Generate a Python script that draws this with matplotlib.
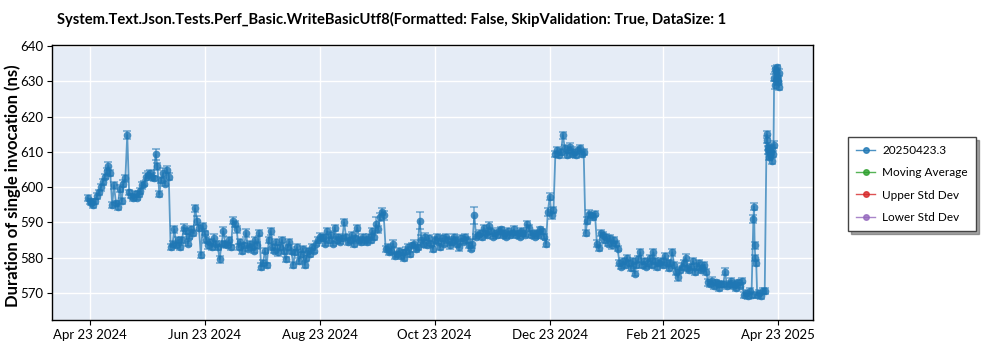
import matplotlib
matplotlib.use("Agg")
import matplotlib.pyplot as plt
import matplotlib.dates as mdates
from matplotlib.lines import Line2D
import pandas as pd

plt.rcParams['font.family'] = ['Lato', 'DejaVu Sans']

title = "System.Text.Json.Tests.Perf_Basic.WriteBasicUtf8(Formatted: False, SkipValidation: True, DataSize: 1"
y_label = "Duration of single invocation (ns)"
series_labels = ["20250423.3", "Moving Average", "Upper Std Dev", "Lower Std Dev"]
series_colors = ["#1f77b4", "#2ca02c", "#d62728", "#9467bd"]
first_day = "2024-04-22"
tick_dates = ["2024-04-23", "2024-06-23", "2024-08-23", "2024-10-23",
              "2024-12-23", "2025-02-21", "2025-04-23"]
y_ticks = [570, 580, 590, 600, 610, 620, 630, 640]

# one run per day starting at first_day
durations = [
    597.0, 596.0, 595.5, 595.0, 596.0, 597.5, 598.5, 600.0, 601.5, 603.0,
    604.5, 606.0, 604.0, 595.0, 600.5, 595.5, 594.5, 599.5, 596.0, 601.0,
    602.5, 614.8, 598.5, 597.5, 597.0, 598.0, 597.0, 598.0, 599.0, 600.5,
    601.0, 603.0, 603.5, 604.0, 603.0, 602.5, 609.3, 606.0, 598.0, 602.0,
    604.0, 601.0, 605.0, 603.0, 583.0, 584.0, 588.0, 583.5, 585.0, 583.0,
    585.0, 588.5, 587.5, 584.0, 586.0, 588.0, 587.0, 594.0, 590.5, 588.5,
    580.8, 589.0, 587.0, 585.0, 583.5, 584.5, 583.0, 585.5, 584.0, 583.0,
    579.5, 584.0, 587.5, 584.0, 583.5, 585.0, 583.0, 590.5, 589.5, 588.0,
    583.0, 584.5, 582.0, 583.5, 587.0, 582.5, 584.0, 583.0, 582.0, 585.0,
    583.5, 587.0, 577.5, 578.5, 582.0, 577.8, 585.0, 587.5, 583.0, 582.0,
    584.5, 581.5, 583.0, 585.0, 582.0, 579.5, 583.0, 584.5, 582.0, 578.0,
    581.5, 583.0, 579.0, 581.0, 582.5, 578.0, 580.0, 582.0, 581.0, 583.0,
    582.0, 584.0, 585.0, 586.0, 585.5, 586.0, 584.0, 587.5, 585.0, 586.5,
    584.0, 588.5, 585.0, 586.0, 584.5, 585.5, 590.0, 586.0, 584.5, 585.0,
    586.5, 584.0, 585.5, 588.5, 585.0, 584.5, 586.0, 585.0, 584.5, 586.0,
    585.0, 587.5, 586.0, 589.5, 588.0, 591.5, 593.0, 592.0, 582.5, 583.0,
    581.5, 582.0, 584.0, 580.5, 581.0, 582.0, 580.5, 581.5, 580.0, 582.0,
    583.0, 581.0, 583.5, 584.0, 582.5, 583.0, 590.5, 585.0, 584.0, 586.0,
    583.5, 585.5, 584.0, 582.5, 585.0, 586.0, 584.5, 583.0, 585.5, 584.0,
    586.0, 585.0, 583.5, 584.5, 586.0, 585.0, 584.0, 583.0, 585.5, 584.5,
    586.0, 585.0, 583.5, 582.5, 584.0, 592.0, 586.0, 586.5, 587.0, 586.0,
    588.5, 587.0, 586.5, 589.0, 587.5, 586.0, 587.0, 586.5, 587.5, 588.0,
    586.5, 587.0, 586.0, 587.5, 586.5, 587.0, 588.0, 586.5, 587.0, 586.0,
    587.5, 587.0, 586.5, 589.5, 588.5, 586.5, 587.0, 586.0, 587.0, 586.5,
    588.0, 587.5, 586.0, 584.0, 593.0, 597.3, 592.0, 593.5, 609.5, 610.5,
    609.0, 610.0, 614.8, 611.0, 609.0, 610.5, 611.5, 609.5, 610.0, 609.0,
    610.5, 611.0, 609.5, 610.0, 587.0, 590.5, 592.5, 592.0, 591.5, 592.5,
    584.0, 582.7, 587.0, 586.5, 585.0, 586.0, 584.0, 585.5, 583.5, 585.0,
    584.0, 582.5, 578.5, 577.5, 579.0, 578.0, 580.0, 578.5, 577.0, 579.0,
    575.5, 578.0, 579.5, 581.5, 578.0, 579.0, 577.5, 578.5, 580.0, 578.0,
    581.5, 579.0, 577.5, 578.5, 579.0, 578.0, 580.5, 578.5, 577.0, 578.5,
    581.5, 578.0, 576.0, 574.5, 576.5, 577.5, 578.5, 580.0, 577.0, 576.5,
    577.5, 579.0, 576.0, 577.5, 578.5, 576.5, 577.0, 578.0, 576.0, 573.0,
    572.5, 573.5, 572.0, 573.0, 572.5, 571.5, 572.5, 572.5, 576.0, 572.0,
    572.5, 573.5, 572.0, 572.5, 571.5, 573.0, 572.0, 573.5, 569.5, 570.0,
    569.0, 570.5, 569.5, 591.0, 580.0, 569.5, 570.0, 569.0, 570.5, 570.5,
    615.0, 610.5, 609.0, 611.0, 631.0, 633.0, 630.0,
]
errors = [
    0.8, 0.7, 0.6, 0.8, 0.7, 0.9, 0.8, 1.0, 0.9, 0.8,
    1.0, 1.2, 0.9, 0.8, 1.0, 0.7, 0.9, 1.0, 0.8, 0.9,
    1.0, 1.2, 0.8, 0.7, 0.9, 0.8, 0.7, 0.8, 0.9, 1.0,
    0.8, 0.9, 1.0, 0.8, 0.9, 0.7, 1.6, 1.0, 0.8, 0.9,
    1.5, 0.8, 0.9, 1.0, 0.8, 0.7, 1.0, 0.8, 0.9, 0.7,
    0.8, 1.0, 0.9, 0.7, 0.8, 1.0, 0.9, 1.0, 1.2, 0.9,
    0.8, 0.9, 0.7, 0.8, 0.9, 0.7, 0.8, 1.2, 0.8, 0.7,
    0.9, 0.8, 1.3, 0.7, 0.8, 0.9, 0.7, 1.0, 0.8, 0.9,
    0.8, 0.7, 0.9, 0.8, 1.0, 0.7, 0.8, 0.9, 0.7, 0.8,
    0.9, 0.8, 0.9, 0.8, 0.7, 0.8, 0.9, 1.0, 0.8, 0.7,
    0.8, 0.9, 0.7, 0.8, 0.9, 0.8, 0.7, 0.8, 0.9, 0.8,
    0.7, 0.8, 0.9, 0.7, 0.8, 0.9, 0.8, 0.7, 0.8, 0.9,
    0.8, 0.7, 0.8, 0.9, 0.8, 0.7, 0.8, 1.0, 0.8, 0.9,
    0.7, 0.8, 0.9, 0.8, 0.7, 0.8, 1.0, 0.8, 0.9, 0.7,
    0.8, 0.9, 0.7, 0.8, 0.8, 0.9, 0.7, 0.8, 0.9, 0.8,
    0.8, 1.0, 0.9, 2.0, 1.0, 1.2, 1.0, 1.3, 0.9, 0.8,
    0.7, 0.8, 0.9, 0.8, 0.7, 0.8, 0.9, 0.7, 0.8, 0.9,
    0.8, 0.7, 0.8, 0.9, 0.8, 0.7, 2.5, 1.5, 0.9, 1.0,
    0.8, 0.9, 0.7, 0.8, 0.9, 0.8, 0.7, 0.8, 0.9, 0.8,
    0.7, 0.8, 0.9, 0.8, 0.7, 0.8, 0.9, 1.0, 0.8, 0.7,
    0.8, 0.9, 0.8, 0.7, 1.2, 2.5, 0.8, 0.7, 0.8, 0.9,
    0.8, 0.7, 0.8, 1.0, 0.8, 0.7, 0.8, 0.9, 0.8, 0.7,
    0.8, 0.9, 0.7, 0.8, 0.8, 0.7, 0.9, 0.8, 0.7, 0.8,
    0.9, 0.8, 0.7, 1.0, 0.9, 0.8, 0.7, 0.8, 0.9, 0.8,
    0.8, 0.7, 0.8, 0.9, 1.2, 1.0, 1.0, 0.9, 0.8, 0.9,
    0.8, 0.9, 1.0, 1.0, 0.8, 0.9, 1.0, 0.8, 0.9, 0.8,
    1.0, 0.9, 0.8, 0.9, 0.8, 1.0, 0.9, 0.8, 0.9, 0.8,
    0.9, 0.8, 0.9, 0.8, 0.9, 0.8, 0.7, 0.8, 0.9, 0.8,
    0.8, 0.7, 0.9, 0.8, 0.9, 0.8, 0.9, 0.8, 0.7, 0.9,
    0.8, 0.9, 1.0, 0.9, 0.8, 0.9, 0.8, 1.0, 0.9, 0.8,
    1.0, 0.8, 0.9, 0.8, 1.0, 0.8, 0.9, 0.8, 0.9, 0.8,
    1.0, 0.8, 0.9, 1.0, 0.8, 0.9, 0.8, 1.0, 0.8, 0.9,
    0.8, 0.9, 0.8, 0.9, 0.8, 0.9, 0.8, 0.9, 0.8, 0.9,
    0.8, 0.9, 0.8, 0.7, 0.8, 0.9, 0.8, 0.7, 1.0, 0.8,
    0.9, 0.8, 0.7, 0.8, 0.9, 0.8, 0.7, 0.8, 0.9, 0.8,
    0.7, 0.8, 0.9, 1.2, 0.9, 0.8, 0.7, 0.8, 0.9, 0.8,
    1.0, 1.2, 0.9, 1.0, 1.0, 0.9, 1.0,
]
# additional runs within the same day (dense end of the series)
extra_times = ["2025-04-10 08:00", "2025-04-10 16:00", "2025-04-11 12:00",
               "2025-04-17 06:00", "2025-04-17 14:00", "2025-04-18 08:00",
               "2025-04-18 16:00", "2025-04-19 10:00", "2025-04-19 18:00",
               "2025-04-20 08:00", "2025-04-20 16:00",
               "2025-04-21 08:00", "2025-04-21 16:00", "2025-04-22 06:00",
               "2025-04-22 14:00", "2025-04-22 20:00", "2025-04-23 08:00",
               "2025-04-23 14:00"]
extra_vals = [594.5, 583.5, 578.5, 613.5, 611.5, 608.5, 611.0, 610.0, 607.5,
              609.5, 612.0, 629.0, 633.5, 631.5, 634.0, 630.0, 632.5, 628.5]
extra_errs = [1.0, 1.0, 0.8, 1.0, 0.9, 0.8, 0.9, 1.0, 0.8,
              0.9, 1.0, 1.0, 0.9, 1.0, 0.8, 0.9, 1.0, 0.9]

daily_dates = pd.date_range(first_day, periods=len(durations), freq="D")
n = min(len(durations), len(errors))
df = pd.DataFrame({
    "t": list(daily_dates[:n]) + list(pd.to_datetime(extra_times)),
    "v": durations[:n] + extra_vals,
    "e": errors[:n] + extra_errs,
}).sort_values("t")

fig = plt.figure(figsize=(10, 3.5), dpi=100)
ax = fig.add_axes([0.052, 0.086, 0.761, 0.785])
ax.set_facecolor("#E5ECF6")

c = series_colors[0]
ax.plot(df.t, df.v, color=c, lw=1.3, alpha=0.7, zorder=3)
ax.errorbar(df.t, df.v, yerr=df.e, fmt='none', ecolor=c, elinewidth=1.1,
            capsize=3, capthick=1.1, alpha=0.6, zorder=3)
ax.plot(df.t, df.v, 'o', color=c, ms=5.5, mew=0, alpha=0.8, zorder=4)

ticks = pd.to_datetime(tick_dates)
ax.set_xticks(ticks)
ax.set_xticklabels([d.strftime("%b %d %Y") for d in ticks], fontsize=9.5)
ref = mdates.date2num(pd.Timestamp(tick_dates[0]))
ax.set_xlim(ref - 19.9, ref + 383.6)
ax.set_ylim(562.35, 640.3)
ax.set_yticks(y_ticks)
ax.set_yticklabels([str(v) for v in y_ticks], fontsize=9.5)
ax.grid(True, color="white", lw=1.0)
ax.set_axisbelow(True)
for s in ax.spines.values():
    s.set_color("black")
    s.set_linewidth(1.0)
ax.tick_params(length=3.5, width=0.8, colors="black", pad=3)

fig.text(0.057, 0.945, title, fontsize=10.6, fontweight="bold", ha="left", va="center")
fig.text(0.013, 0.47, y_label, fontsize=12, fontweight="bold", rotation=90,
         ha="center", va="center")

handles = [Line2D([0], [0], color=col, marker='o', ms=4, lw=1, alpha=0.8)
           for col in series_colors]
leg = fig.legend(handles, series_labels, loc="upper left",
                 bbox_to_anchor=(0.848, 0.609), frameon=True, fancybox=False,
                 shadow=True, edgecolor="#444444", fontsize=8.5,
                 handlelength=1.6, handletextpad=0.6, labelspacing=0.95,
                 borderpad=0.7, borderaxespad=0.0)
leg.get_frame().set_linewidth(1.0)

fig.savefig("out.png", dpi=100)
